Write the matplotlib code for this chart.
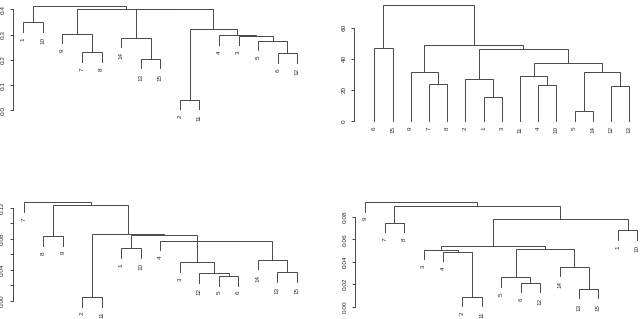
import matplotlib.pyplot as plt

plt.rcParams['font.family'] = ['Liberation Sans', 'DejaVu Sans']

# top-left dendrogram (leaves hang below merges)
order_a = [1, 10, 9, 7, 8, 14, 13, 15, 2, 11, 4, 3, 5, 6, 12]
merge_a = [(-2, -11), (-13, -15), (-6, -12), (-7, -8), (-5, 3), (-14, 2), (-3, 5),
           (-4, 7), (-9, 4), (1, 8), (-1, -10), (6, 10), (9, 12), (11, 13)]
height_a = [0.0408, 0.203, 0.2257, 0.2297, 0.2745, 0.2875, 0.295,
            0.297, 0.302, 0.3208, 0.3485, 0.400, 0.4015, 0.4143]
ticks_a = [0, 0.1, 0.2, 0.3, 0.4]
ticklabels_a = ["0.0", "0.1", "0.2", "0.3", "0.4"]

# top-right dendrogram (leaves down to zero)
order_b = [6, 15, 9, 7, 8, 2, 1, 3, 11, 4, 10, 5, 14, 12, 13]
merge_b = [(-5, -14), (-1, -3), (-12, -13), (-4, -10), (-7, -8), (-2, 2), (-11, 4),
           (-9, 5), (1, 3), (7, 9), (6, 10), (-6, -15), (8, 11), (12, 13)]
height_b = [6.4, 15.4, 22.5, 23.1, 23.8, 26.8, 28.9,
            31.3, 31.3, 37.5, 46.3, 46.7, 48.6, 74.4]
ticks_b = [0, 20, 40, 60]
ticklabels_b = ["0", "20", "40", "60"]

# bottom-left dendrogram
order_c = [7, 8, 9, 2, 11, 1, 10, 4, 3, 12, 5, 6, 14, 13, 15]
merge_c = [(-2, -11), (-5, -6), (-12, 2), (-13, -15), (-3, 3), (-14, 4), (-1, -10),
           (5, 6), (-4, 8), (-8, -9), (7, 9), (1, 11), (10, 12), (-7, 13)]
height_c = [0.0051, 0.0321, 0.0356, 0.0369, 0.0497, 0.0527, 0.0678,
            0.0768, 0.0775, 0.0831, 0.0849, 0.0857, 0.1230, 0.1269]
ticks_c = [0, 0.02, 0.04, 0.06, 0.08, 0.10, 0.12]
ticklabels_c = ["0.00", "", "0.04", "", "0.08", "", "0.12"]

# bottom-right dendrogram
order_d = [9, 7, 8, 3, 4, 2, 11, 5, 6, 12, 14, 13, 15, 1, 10]
merge_d = [(-2, -11), (-13, -15), (-6, -12), (-5, 3), (-14, 2), (-4, 1), (-3, 6),
           (4, 5), (7, 8), (-1, -10), (-7, -8), (9, 10), (11, 12), (-9, 13)]
height_d = [0.0089, 0.0157, 0.0211, 0.0261, 0.0356, 0.0489, 0.0504,
            0.0513, 0.0542, 0.0679, 0.0744, 0.0782, 0.0892, 0.0928]
ticks_d = [0, 0.02, 0.04, 0.06, 0.08]
ticklabels_d = ["0.00", "0.02", "0.04", "0.06", "0.08"]

W, H = 640, 319
LINE = "#484848"
TEXT = "#2a2a2a"
fig = plt.figure(figsize=(6.4, 3.19), dpi=100)


def draw_dendro(ax, order, merges, heights, hang):
    pos = {leaf: i + 1 for i, leaf in enumerate(order)}
    drop = hang * (max(heights) - min(heights)) if hang >= 0 else None
    nodes = {}

    def child(k, h):
        if k < 0:
            x = pos[-k]
            y = h - drop if drop is not None else 0
            ax.annotate(str(-k), (x, y), xytext=(0, -3.8), textcoords="offset points",
                        rotation=90, ha="center", va="top", fontsize=4.5,
                        color=TEXT, annotation_clip=False)
            return x, y
        return nodes[k]

    for i, ((a, b), h) in enumerate(zip(merges, heights), start=1):
        xl, yl = child(a, h)
        xr, yr = child(b, h)
        ax.plot([xl, xl, xr, xr], [yl, h, h, yr], color=LINE, lw=0.7,
                clip_on=False, solid_joinstyle="miter")
        nodes[i] = ((xl + xr) / 2, h)


def make_axes(axis_x, leaf1, step, y0, scale, top_px):
    gap = (leaf1 - axis_x) / step
    right_px = leaf1 + 14 * step + (leaf1 - axis_x)
    bot_px = y0 + 2
    ax = fig.add_axes([axis_x / W, 1 - bot_px / H, (right_px - axis_x) / W,
                       (bot_px - top_px) / H])
    ax.set_xlim(1 - gap, 15 + gap)
    ax.set_ylim((y0 - bot_px) / scale, (y0 - top_px) / scale)
    return ax


def style(ax, ticks, labels):
    for side in ["top", "right", "bottom"]:
        ax.spines[side].set_visible(False)
    ax.spines["left"].set_bounds(ticks[0], ticks[-1])
    ax.spines["left"].set_linewidth(0.7)
    ax.spines["left"].set_color(LINE)
    ax.set_xticks([])
    ax.set_yticks(ticks)
    ax.set_yticklabels(labels)
    ax.tick_params(axis="y", length=2.4, width=0.7, color=LINE, pad=3.0,
                   labelsize=4.6, labelcolor=TEXT, labelrotation=90)
    for t in ax.get_yticklabels():
        t.set_va("center")
    ax.patch.set_visible(False)


ax1 = make_axes(13.3, 23.3, 19.57, 110.3, 252.5, 3)
draw_dendro(ax1, order_a, merge_a, height_a, 0.1)
style(ax1, ticks_a, ticklabels_a)

ax2 = make_axes(354.3, 374.3, 18.21, 121.0, 1.5556, 3)
draw_dendro(ax2, order_b, merge_b, height_b, -1)
style(ax2, ticks_b, ticklabels_b)

ax3 = make_axes(12.7, 24.0, 19.48, 301.0, 777.8, 200)
draw_dendro(ax3, order_c, merge_c, height_c, 0.1)
style(ax3, ticks_c, ticklabels_c)

ax4 = make_axes(355.0, 365.3, 19.43, 306.7, 1125.0, 200)
draw_dendro(ax4, order_d, merge_d, height_d, 0.1)
style(ax4, ticks_d, ticklabels_d)

fig.savefig("out.png", dpi=100, facecolor="white")
